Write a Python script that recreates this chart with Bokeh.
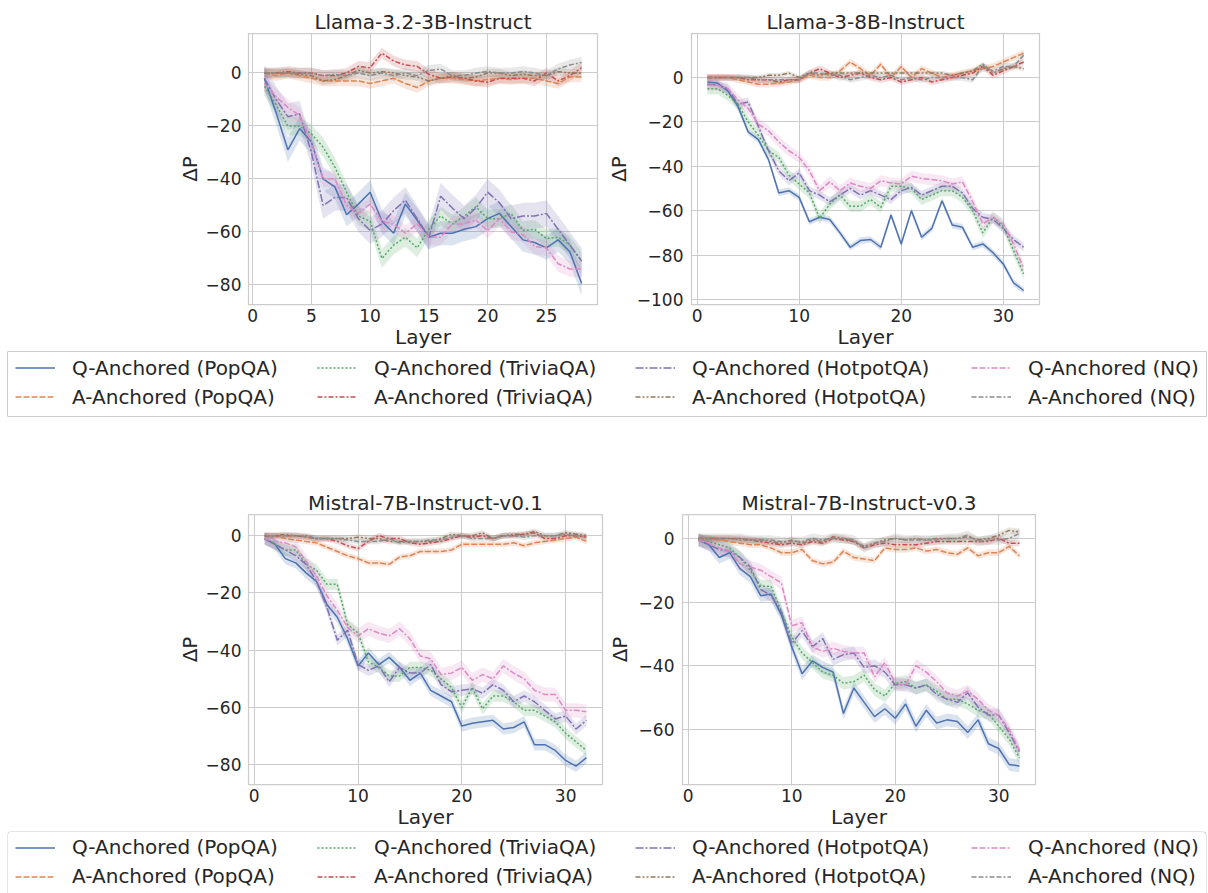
import numpy as np
from bokeh.plotting import figure
from bokeh.layouts import column, row
from bokeh.models import (Range1d, FixedTicker, Legend, LegendItem, BoxAnnotation,
                          CustomJSTickFormatter)
from bokeh.embed import file_html
from bokeh.resources import INLINE

FONT = "DejaVu Sans"
TXT = "#262626"
GRID = "#cccccc"

series_names = ["Q-Anchored (PopQA)", "A-Anchored (PopQA)",
                "Q-Anchored (TriviaQA)", "A-Anchored (TriviaQA)",
                "Q-Anchored (HotpotQA)", "A-Anchored (HotpotQA)",
                "Q-Anchored (NQ)", "A-Anchored (NQ)"]
colors = ["#4C72B0", "#DD8452", "#55A868", "#C44E52",
          "#8172B3", "#937860", "#DA8BC3", "#8C8C8C"]
dashes = ["solid", "6 2", "2 2", "5 2 2 2", "8 2 2 2", "5 2 2 2 2 2", "6 2 6 2 2 2", "5 2 5 2 2 2"]

titles = ["Llama-3.2-3B-Instruct", "Llama-3-8B-Instruct",
          "Mistral-7B-Instruct-v0.1", "Mistral-7B-Instruct-v0.3"]

layers_28 = list(range(1, 29))
layers_32 = list(range(1, 33))

# ---- Llama-3.2-3B-Instruct ----
l32_q_pop = [-2, -15, -29, -21, -26, -40, -43, -53.5, -49.5, -45, -56, -60.5, -49.5, -55.5, -62, -60.5, -60.5, -59, -58, -55, -53, -58, -63, -64, -66, -63, -67.5, -79.5]
l32_a_pop = [0, -1, 0, -1, -2, -3, -3, -3, -3, -4, -3, -2, -4, -5.5, -3, -2, -2, -2.5, -3, -2.5, -2, -2.5, -2, -2, -3, -4, -1.5, -1.5]
l32_q_triv = [-5, -12, -20, -20, -23, -28, -35.5, -45, -54, -56, -70, -65, -62, -66, -59, -54, -57, -54, -50.5, -55, -55, -53, -59.5, -59, -62.5, -62, -65, -71]
l32_a_triv = [0, 0, 0.5, 0, 0, -1, -1, 0, 2.5, 2, 7.5, 4.5, 3, 2.5, -0.5, -2, -1.5, -2, -3, -3.5, -2, -2, -2, -3, 0, -3, -1, 2]
l32_q_hot = [-2, -10, -16.5, -15.5, -30, -50, -47, -47, -55, -59.5, -57, -52, -48, -55, -62, -46.5, -51, -55, -51, -45, -49, -55, -54, -54, -53, -59, -65, -71]
l32_a_hot = [0, 0, 0, -0.5, -1, -3, -2.5, -1, 1, 0, 0.5, 0, -1, -1.5, -3, -2, -1, -2, -1.5, 0, 0, -1, -0.5, -1, -1, 0.5, 0, 0]
l32_q_nq = [-4, -9, -13, -16, -26, -40, -40, -50, -53, -49.5, -56, -57, -60.5, -57, -62, -62, -57, -57, -55.5, -59.5, -55, -60, -61, -65.5, -66, -72, -74, -74]
l32_a_nq = [0, 0, 0, 0, 0, -1, -0.5, -1, 0, -1, 0, -1, 0, -1, 1, 1.5, -1, -1, 0, 0.5, 0, 0, 0.5, 0, -1, 1.5, 3, 4]
l32_band = [4.5, 2.0, 3.5, 2.0, 5.0, 1.5, 3.0, 2.0]

# ---- Llama-3-8B-Instruct ----
l38_q_pop = [-2, -2.5, -6, -13, -24.5, -28, -37, -52, -51, -54, -65, -63, -64, -70, -76.5, -73.5, -73, -76.5, -62, -75, -60, -72, -68, -55.5, -66.5, -67.5, -76.5, -75, -79, -84, -92.5, -96]
l38_a_pop = [0, 0, 0, -1, -2, -3, -3, -2.5, -2, -1, 1, 0, 0, 3, 7, 4, 1, 6, 0, 5, 0, 4, 2, 0, 1, 2, 3, 4, 5, 7, 9, 11]
l38_q_triv = [-5, -5, -8, -12, -20, -26, -33, -36, -44, -48, -52, -63.5, -57, -53, -58, -58, -55, -58.5, -49, -49, -50, -55, -53, -51, -51, -54, -60, -70, -63, -67, -78, -88.5]
l38_a_triv = [0, 0, 0, 0, -1, -1, -1, -2, -1, -1, 2, 4, 2, 0, 1, 2, 0, -1, 0, -2, -1, 0, -2, -1, 0, 1, 2, 5, 1, 3, 5, 7]
l38_q_hot = [-3, -3.5, -5, -12, -11, -22, -33, -42, -46.5, -43, -51, -53, -56, -53, -50, -53, -51, -53, -55, -51, -49.5, -53, -51, -49, -49, -52, -59, -63, -64, -68, -73, -76.5]
l38_a_hot = [0, 0, 0, 0, 0, 0, 1, 1, 2, 0, 2, 1, 2, 2, 2, 2, 2, 2, 2, 2, 2, 2, 2, 2, 1, 2, 3, 6, 2, 4, 5, 4]
l38_q_nq = [-3.5, -3.5, -5, -10, -14, -21, -24, -29, -33, -36, -42, -51, -47, -51, -47.5, -49, -50, -46.5, -47.5, -48, -44.5, -45.5, -46, -46.5, -48, -47, -56, -66, -63, -66, -75, -86]
l38_a_nq = [0, 0, 0, 0, 0, -1, -1, -1, -1, -1, 2, 2, 1, 1, -1, 0, 1, 0, 1, -1, 0, -1, 0, 0, 0, 0, -1, 5, 3, 5, 5, 10]
l38_band = [1.5, 1.5, 2.5, 1.5, 2.0, 1.0, 2.5, 1.5]

# ---- Mistral-7B-Instruct-v0.1 ----
m01_q_pop = [-1, -3, -8, -9.5, -13, -16, -24, -28.5, -36, -45.5, -41, -45, -42.5, -46, -50.5, -48, -54, -56, -58, -66.5, -65.5, -65, -64.5, -67.5, -67, -65, -73, -73, -75, -78.5, -80.5, -77.5]
m01_a_pop = [0, 0, -1, -1.5, -2, -2.5, -4, -5.5, -7, -8, -9.5, -9.5, -10, -7.5, -7, -5.5, -5.5, -5.5, -5, -3, -3, -3, -3, -3, -2.5, -3.5, -2.5, -2, -1.5, -1, -0.5, -2]
m01_q_triv = [-1, -3, -5, -5, -10, -12, -17, -17, -31, -34, -44, -46, -49, -49, -46, -46, -47, -50, -53, -60, -53, -60.5, -56, -56, -58, -61, -61, -63, -65, -69, -72, -75]
m01_a_triv = [0, 0, 0, 0, -0.5, -1, -1, -2, -3.5, -4.5, -2, 0, -1, -1, -2.5, -3, -2.5, -2, -1, 0, -0.5, 0, -1, 0, 0, 0.5, 1, -1, -1, 0, 0, -0.5]
m01_q_hot = [-1, -3, -5, -7, -10, -16, -25, -36.5, -33, -45, -47, -45.5, -51, -46, -48, -48, -45, -52, -54.5, -54, -53.5, -55, -52, -54, -58, -56, -58, -61, -64, -63, -67.5, -64.5]
m01_a_hot = [0, 0, 0.5, 0, 0, -1, -1, -1, -1, -0.5, -1, -1, -2, -2, -2, -2, -2, -1, 0.5, 0, 0, 1, -1, 0, 0.5, 0.5, 1.5, 0, 0, 1, 0.5, 0]
m01_q_nq = [-1, -2, -2.5, -4, -9, -14, -21, -26, -32, -35, -32.5, -34, -35, -32.5, -36, -42, -43, -48.5, -48, -46, -50.5, -48.5, -50, -45.5, -48, -50, -54, -55.5, -55.5, -61, -61, -61.5]
m01_a_nq = [0, 0, 0, 0, -0.5, -1, -1, -1, -1.5, -2, -2, -2, -1, -2.5, -2, -2, -1.5, -1.5, -0.5, 0, -1, -1, -1, 0, 0, -0.5, 0, 0, 0, 0.5, 0, -0.5]
m01_band = [2.0, 1.0, 2.0, 1.0, 2.0, 1.0, 2.5, 1.0]

# ---- Mistral-7B-Instruct-v0.3 ----
m03_q_pop = [-0.5, -2, -6, -4.5, -9.5, -12, -18, -17.5, -24, -34, -42.5, -38.5, -40.5, -42, -55, -47, -51.5, -56, -53.5, -56.5, -52, -59, -54, -58, -57, -57.5, -61, -57, -64.5, -66, -71, -71.5]
m03_a_pop = [0, 0, -0.5, -1, -1.5, -2, -2, -3, -4.5, -4.5, -3.5, -7, -8, -7.5, -4, -6, -6.5, -7, -3, -3.5, -3.5, -3, -4, -3.5, -4.5, -5, -3, -5.5, -4.5, -4.5, -2.5, -5.5]
m03_q_triv = [-0.5, -1, -2, -3, -6, -10, -15, -15, -23, -31, -36, -39, -42, -43, -45.5, -45, -43, -47.5, -49.5, -45.5, -45, -47, -46, -48, -50.5, -50.5, -52, -54, -55, -59, -63, -69]
m03_a_triv = [0, 0, 0, 0, 0, -0.5, -1, -1.5, -2, -1.5, -2, -1, -1.5, 0, -0.5, -1, -3, -2, -1.5, -2, -2, -2, -1.5, -1, -1, -1, -1, -1, -1, 0, -1.5, -1.5]
m03_q_hot = [-0.5, -2, -3.5, -4, -6, -9, -16, -18, -23, -33, -29, -34, -31.5, -38, -36.5, -36, -40.5, -40, -42, -46, -46, -47, -46, -49, -50.5, -51.5, -48.5, -53, -55.5, -55.5, -61, -67]
m03_a_hot = [0, 0, 0, 0, -0.5, -0.5, -0.5, -1, -1.5, -0.5, -1.5, -0.5, -1, 0.5, 0, -1, -2.5, -1.5, -0.5, 0, -0.5, 0, -0.5, 0, 0, 0, 0.5, -0.5, 0, 1, 2.5, 2]
m03_q_nq = [-0.5, -1.5, -3, -4, -8, -9, -10, -12, -14, -27.5, -26.5, -34, -35.5, -34.5, -35.5, -36, -36, -43.5, -39, -45.5, -46, -40, -42, -45, -48.5, -49.5, -48, -50.5, -54, -55.5, -60, -66.5]
m03_a_nq = [0, 0, 0, 0, 0, -0.5, -0.5, -0.5, -1, -1, -1, 0, -0.5, 0, 0, -0.5, -3, -1.5, -1, 0, -0.5, -0.5, -0.5, -0.5, 0, 0, 1, -1, -0.5, -0.5, 0, 1.5]
m03_band = [2.0, 1.0, 2.0, 1.0, 2.0, 1.0, 2.0, 1.5]

xticks_a = [0, 5, 10, 15, 20, 25]
xticks_b = [0, 10, 20, 30]
yticks_l32 = [0, -20, -40, -60, -80]
yticks_l38 = [0, -20, -40, -60, -80, -100]
yticks_m01 = [0, -20, -40, -60, -80]
yticks_m03 = [0, -20, -40, -60]

minus_fmt = "return String(tick).replace('-', '\\u2212');"


def panel(title, layers, ys, hws, xr, yr, xticks, yticks, fw, fh, bl, br, ystand, ylabstand):
    p = figure(title=title, frame_width=fw, frame_height=fh,
               min_border_left=bl, min_border_right=br, min_border_top=33, min_border_bottom=47,
               x_range=Range1d(*xr), y_range=Range1d(*yr),
               output_backend="svg", toolbar_location=None,
               background_fill_color="white", border_fill_color="white")
    p.title.text_font = FONT
    p.title.text_font_size = "20px"
    p.title.text_font_style = "normal"
    p.title.text_color = TXT
    p.title.align = "center"
    p.title.standoff = 0
    p.outline_line_color = GRID
    p.outline_line_width = 1.25
    for g in (p.xgrid, p.ygrid):
        g.grid_line_color = GRID
        g.grid_line_width = 1
    p.xaxis.ticker = FixedTicker(ticks=xticks)
    p.yaxis.ticker = FixedTicker(ticks=yticks)
    for ax in (p.xaxis, p.yaxis):
        ax.formatter = CustomJSTickFormatter(code=minus_fmt)
        ax.axis_line_color = None
        ax.major_tick_line_color = None
        ax.minor_tick_line_color = None
        ax.major_tick_out = 0
        ax.major_tick_in = 0
        ax.major_label_text_font = FONT
        ax.major_label_text_font_size = "17px"
        ax.major_label_text_color = TXT
        ax.axis_label_text_font = FONT
        ax.axis_label_text_font_size = "20px"
        ax.axis_label_text_font_style = "normal"
        ax.axis_label_text_color = TXT
    p.xaxis.axis_label = "Layer"
    p.yaxis.axis_label = "ΔP"
    p.xaxis.major_label_standoff = 4
    p.xaxis.axis_label_standoff = 0
    p.yaxis.major_label_standoff = ystand
    p.yaxis.axis_label_standoff = ylabstand
    for y, hw, c in zip(ys, hws, colors):
        ya = np.array(y, dtype=float)
        p.varea(x=layers, y1=ya - hw, y2=ya + hw, fill_color=c, fill_alpha=0.2)
    for y, c, d in zip(ys, colors, dashes):
        p.line(layers, y, line_color=c, line_dash=d, line_width=1.5)
    return p


f1 = panel(titles[0], layers_28,
           [l32_q_pop, l32_a_pop, l32_q_triv, l32_a_triv, l32_q_hot, l32_a_hot, l32_q_nq, l32_a_nq],
           l32_band, (-0.35, 29.35), (-87.4, 14.9), xticks_a, yticks_l32,
           349, 271, 248, 6, 7, 1)
f2 = panel(titles[1], layers_32,
           [l38_q_pop, l38_a_pop, l38_q_triv, l38_a_triv, l38_q_hot, l38_a_hot, l38_q_nq, l38_a_nq],
           l38_band, (-0.55, 33.55), (-102.3, 19.85), xticks_b, yticks_l38,
           348, 271, 80, 10, 8, 3)
f3 = panel(titles[2], layers_32,
           [m01_q_pop, m01_a_pop, m01_q_triv, m01_a_triv, m01_q_hot, m01_a_hot, m01_q_nq, m01_a_nq],
           m01_band, (-0.55, 33.55), (-86.9, 7.4), xticks_b, yticks_m01,
           354, 270, 248, 2, 7, 1)
f4 = panel(titles[3], layers_32,
           [m03_q_pop, m03_a_pop, m03_q_triv, m03_a_triv, m03_q_hot, m03_a_hot, m03_q_nq, m03_a_nq],
           m03_band, (-0.55, 33.55), (-77.3, 7.5), xticks_b, yticks_m03,
           353, 270, 74, 10, 8, 4)

col_x = [8, 310, 628, 964]


def legend_fig(height, border_bottom, y_loc, outline):
    lf = figure(width=1208, height=height, min_border_left=7, min_border_right=2,
                min_border_top=0, min_border_bottom=border_bottom,
                x_range=Range1d(0, 1), y_range=Range1d(0, 1),
                x_axis_location=None, y_axis_location=None,
                output_backend="svg", toolbar_location=None,
                background_fill_color="white", border_fill_color="white")
    lf.xgrid.visible = False
    lf.ygrid.visible = False
    if outline:
        lf.outline_line_color = GRID
        lf.outline_line_width = 1
    else:
        lf.outline_line_color = None
        lf.add_layout(BoxAnnotation(left=0, right=1, top=1, bottom=-1,
                                    fill_color=None, fill_alpha=0,
                                    line_color=GRID, line_width=1, line_alpha=1,
                                    border_radius=4))
    # placeholder renderers (one NaN point each) that only supply legend glyphs
    rends = [lf.line(x=[np.nan], y=[np.nan], line_color=c, line_dash=d, line_width=1.5)
             for c, d in zip(colors, dashes)]
    for j in range(4):
        items = [LegendItem(label=series_names[2 * j], renderers=[rends[2 * j]]),
                 LegendItem(label=series_names[2 * j + 1], renderers=[rends[2 * j + 1]])]
        leg = Legend(items=items, location=(col_x[j], y_loc), orientation="vertical",
                     glyph_width=40, glyph_height=25, label_height=25,
                     label_standoff=17, spacing=4, padding=0, margin=0,
                     border_line_alpha=0, background_fill_alpha=0,
                     label_text_font=FONT, label_text_font_size="20px",
                     label_text_color=TXT)
        lf.add_layout(leg)
    return lf


L1 = legend_fig(130, 65, 7, True)
L2 = legend_fig(62, 0, 62 - 3.8 - 54, False)

layout = column(row(f1, f2), L1, row(f3, f4), L2)

with open("out.html", "w", encoding="utf-8") as fh:
    fh.write(file_html(layout, INLINE))
